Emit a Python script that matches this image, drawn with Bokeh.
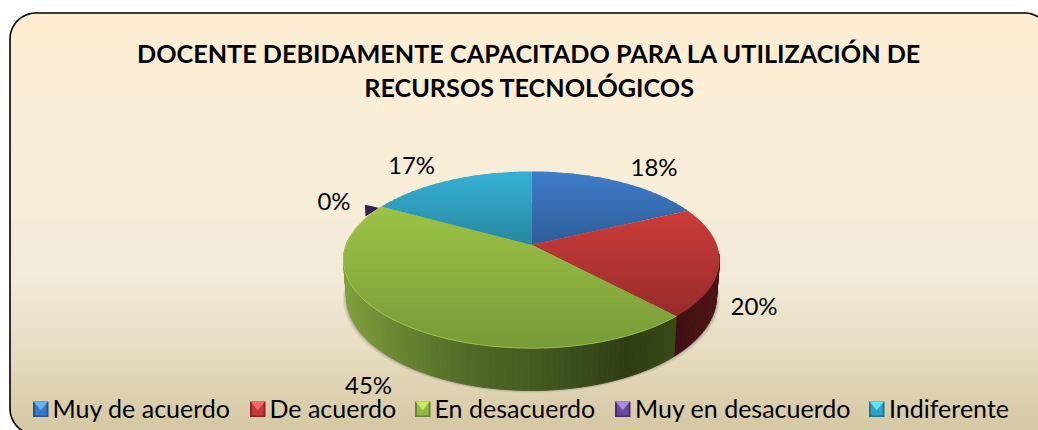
import math
from bokeh.plotting import figure
from bokeh.embed import file_html
from bokeh.resources import INLINE
from bokeh.core.properties import value

# ---- data ----
categories = ["Muy de acuerdo", "De acuerdo", "En desacuerdo", "Muy en desacuerdo", "Indiferente"]
values = [18, 20, 45, 0, 17]
title_lines = ["DOCENTE DEBIDAMENTE CAPACITADO PARA LA UTILIZACIÓN DE", "RECURSOS TECNOLÓGICOS"]

# ---- style ----
FONT = value("Lato")
top_light = ["#3f7dca", "#cb3d3a", "#9cc346", "#5c3f8c", "#35b0d5"]
top_dark = ["#2d5e98", "#962b2a", "#789a38", "#3a2760", "#27879f"]
swatch_light = ["#66b4f2", "#f06a68", "#c6ea60", "#a98be0", "#5fe4fa"]
swatch_mid = ["#3a78c4", "#c43a3a", "#92b848", "#6a4a9e", "#30a0c4"]
swatch_dark = ["#24558e", "#8f2424", "#69853a", "#47306e", "#1f7490"]
CX, CY = 531.0, 244.3
R, S, K = 185.3, 85.8, 0.17
R2, S2, CY2 = 182.3, 91.3, 280.0


def top_pt(theta):
    u, v = math.sin(theta), math.cos(theta)
    d = 1 + K * v
    return CX + R * u / d, CY - S * v / d


def bot_pt(theta):
    u, v = math.sin(theta), math.cos(theta)
    d = 1 + K * v
    return CX + R2 * u / d, CY2 - S2 * v / d


def mix(a, b, t):
    t = max(0.0, min(1.0, t))
    ca = [int(a[i:i + 2], 16) for i in (1, 3, 5)]
    cb = [int(b[i:i + 2], 16) for i in (1, 3, 5)]
    return "#%02x%02x%02x" % tuple(round(x + (y - x) * t) for x, y in zip(ca, cb))


def ramp(stops, t):
    for (t0, c0), (t1, c1) in zip(stops, stops[1:]):
        if t <= t1:
            return mix(c0, c1, (t - t0) / (t1 - t0))
    return stops[-1][1]


def clip_band(poly, y0, y1):
    def clip(pts, keep, ycut):
        out = []
        for i, p in enumerate(pts):
            q = pts[(i + 1) % len(pts)]
            if keep(p):
                out.append(p)
            if keep(p) != keep(q):
                t = (ycut - p[1]) / (q[1] - p[1])
                out.append((p[0] + t * (q[0] - p[0]), ycut))
        return out
    r = clip(poly, lambda p: p[1] >= y0, y0)
    if r:
        r = clip(r, lambda p: p[1] <= y1, y1)
    return r


p = figure(width=1038, height=430, x_range=(0, 1038), y_range=(430, 0),
           toolbar_location=None, output_backend="svg", min_border=0,
           outline_line_color=None, background_fill_color="white",
           border_fill_color="white")
p.axis.visible = False
p.grid.visible = False

# ---- card ----
L, T, RR, B, RAD = 9.5, 12.5, 1050.0, 434.0, 26.0


def card_x(y):
    if y < T + RAD:
        d = T + RAD - y
    elif y > B - RAD:
        d = y - (B - RAD)
    else:
        d = 0
    d = min(d, RAD)
    off = RAD - math.sqrt(max(RAD * RAD - d * d, 0))
    return L + off, RR - off


bg_stops = [(0.0, "#fdeed2"), (0.35, "#f8eed8"), (0.62, "#f2ebd8"), (0.8, "#e6dcc0"), (1.0, "#d3c6a1")]
ys = [T + i * 2.0 for i in range(int((B - T) / 2) + 1)]
xs_l, xs_r, tops, bots, cols = [], [], [], [], []
for y in ys:
    a, b = card_x(y + 1)
    xs_l.append(a)
    xs_r.append(b)
    tops.append(y)
    bots.append(y + 2.4)
    cols.append(ramp(bg_stops, (y - T) / (B - T)))
p.quad(left=xs_l, right=xs_r, top=tops, bottom=bots, fill_color=cols, line_color=None)

steps = 24
ox, oy = [], []
for i in range(steps + 1):
    a = math.pi - i / steps * math.pi / 2
    ox.append(L + RAD + RAD * math.cos(a)); oy.append(B - RAD + RAD * math.sin(a))
lx = ox[::-1]
ly = oy[::-1]
for i in range(steps + 1):
    a = math.pi + i / steps * math.pi / 2
    lx.append(L + RAD + RAD * math.cos(a)); ly.append(T + RAD + RAD * math.sin(a))
for i in range(steps + 1):
    a = 1.5 * math.pi + i / steps * math.pi / 2
    lx.append(RR - RAD + RAD * math.cos(a)); ly.append(T + RAD + RAD * math.sin(a))
p.line(lx, ly, line_color="#000000", line_width=1.6)

# ---- pie ----
total = sum(values)
starts, ends = [], []
acc = 0.0
for v in values:
    starts.append(acc / total * 2 * math.pi)
    acc += v
    ends.append(acc / total * 2 * math.pi)

# soft shadow under the body
for grow, alpha in ((3.5, 0.10), (2.2, 0.16), (1.0, 0.24)):
    sx, sy = [], []
    for i in range(181):
        th = math.radians(i * 2)
        x, y = bot_pt(th)
        sx.append(CX + (x - CX) * (1 + grow / 182))
        sy.append(y + grow * 0.6)
    p.patch(sx, sy, fill_color="#555555", fill_alpha=alpha, line_color=None)

# zero-valued slice sticks out behind the rim
zi = values.index(0)
zx, zy = top_pt(starts[zi])
p.patch([zx - 16.5, zx - 2, zx - 16], [zy - 1.8, zy + 1.5, zy + 10], fill_color="#33204f", line_color=None)

# side wall
wall_stops = [(346.0, "#7f9f3b"), (400.0, "#688531"), (470.0, "#516a27"), (540.0, "#445a1f"),
              (600.0, "#35471a"), (630.0, "#2e3c13"), (675.0, "#384a17")]
wx, wy, wc = [], [], []
for i, v in enumerate(values):
    a, b = max(starts[i], math.radians(96)), min(ends[i], math.radians(276))
    if b <= a or v == 0:
        continue
    n = max(2, int((b - a) / math.radians(1.5)))
    for j in range(n):
        t0 = a + (b - a) * j / n
        t1 = a + (b - a) * (j + 1) / n
        x0, y0 = top_pt(t0); x1, y1 = top_pt(t1)
        x2, y2 = bot_pt(t1); x3, y3 = bot_pt(t0)
        wx.append([x0, x1, x2, x3]); wy.append([y0, y1, y2, y3])
        if i == 2:
            wc.append(ramp(wall_stops, min(max(x0, 346.0), 675.0)))
        else:
            wc.append(mix("#4c1314", "#3d0f10", abs(x0 - 715) / 40))
p.patches(wx, wy, fill_color=wc, line_color=wc, line_width=0.8)

# top face with vertical gradient
fx, fy, fc = [], [], []
for i, v in enumerate(values):
    if v == 0:
        continue
    n = max(2, int((ends[i] - starts[i]) / math.radians(1.0)))
    poly = [(CX, CY)] + [top_pt(starts[i] + (ends[i] - starts[i]) * j / n) for j in range(n + 1)]
    ymin = min(q[1] for q in poly)
    ymax = max(q[1] for q in poly)
    y = ymin
    while y < ymax:
        piece = clip_band(poly, y, y + 2.5)
        if len(piece) >= 3:
            fx.append([q[0] for q in piece]); fy.append([q[1] for q in piece])
            fc.append(mix(top_light[i], top_dark[i], (y - ymin) / max(ymax - ymin, 1)))
        y += 2.0
p.patches(fx, fy, fill_color=fc, line_color=None)

# thin highlight along front rim of the green slice
hx, hy = [], []
for j in range(61):
    x, y = top_pt(starts[2] + (ends[2] - starts[2]) * j / 60)
    hx.append(x); hy.append(y)
p.line(hx, hy, line_color="#a8cc55", line_width=1.0, line_alpha=0.8)

# ---- percentage labels ----
pct = [f"{round(v / total * 100)}%" for v in values]
label_x = [653.5, 753.5, 368, 333.5, 411]
label_y = [166, 304.5, 383.5, 199.5, 163.5]
p.text(label_x, label_y, text=pct, text_font=FONT, text_font_size="24px", text_color="#000000",
       text_align="center", text_baseline="middle")

# ---- title ----
p.text([529, 529], [52.5, 86.5], text=title_lines, text_font=FONT, text_font_style="bold",
       text_font_size="25.2px", text_color="#000000", text_align="center", text_baseline="middle")

# ---- legend ----
sw_x = [32.5, 249.5, 414.5, 614.5, 868.5]
tx_x = [52, 269, 434, 634.5, 888.5]
SW = 15.5
SY = 401.0
for i in range(len(categories)):
    x0 = sw_x[i]
    x1 = x0 + SW
    y1 = SY + SW
    p.quad(left=[x0], right=[x1], top=[SY], bottom=[y1], fill_color=swatch_dark[i], line_color=None)
    p.quad(left=[x0 + 2], right=[x1 - 2], top=[SY + 2], bottom=[y1 - 1.5], fill_color=swatch_mid[i], line_color=None)
    p.patch([x0 + 0.5, x1 - 0.5, x0 + SW / 2], [SY, SY, SY + SW * 0.56], fill_color=swatch_light[i], line_color=None)
p.text(tx_x, [407] * 5, text=categories, text_font=FONT, text_font_size="25px", text_color="#000000",
       text_align="left", text_baseline="middle")

open("out.html", "w").write(file_html(p, INLINE))
